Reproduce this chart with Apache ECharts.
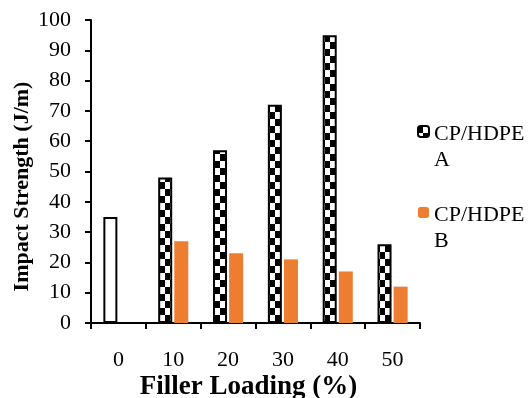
<!DOCTYPE html>
<html><head><meta charset="utf-8">
<script src="https://cdn.jsdelivr.net/npm/echarts@6/dist/echarts.min.js"></script>
<style>html,body{margin:0;padding:0;background:#fff}#c{width:530px;height:398px}</style>
</head><body><div id="c"></div>
<script>
const categories = ['0','10','20','30','40','50'];
const seriesAName = 'CP/HDPE\nA';
const seriesBName = 'CP/HDPE\nB';
const valuesA = [35, 48, 57, 72, 95, 26];
const valuesB = [null, 27, 23, 21, 17, 12];
const yTicks = [0,10,20,30,40,50,60,70,80,90,100];

const cv = document.createElement('canvas');
cv.width = 10; cv.height = 14;
const cx = cv.getContext('2d');
cx.fillStyle = '#fff'; cx.fillRect(0,0,10,14);
cx.fillStyle = '#000'; cx.fillRect(0,0,5,7); cx.fillRect(5,7,5,7);

const font = '"Liberation Serif", "Times New Roman", serif';
const chart = echarts.init(document.getElementById('c'));
chart.setOption({
  animation: false,
  textStyle: {fontFamily: font, color: '#000'},
  grid: {left: 91, right: 110, top: 20, bottom: 75, containLabel: false, outerBoundsMode: 'none'},
  legend: {
    orient: 'vertical', left: 417, top: 90, itemGap: 0, padding: 0,
    itemWidth: 11, itemHeight: 11,
    formatter: name => '{p| }\n' + name.split('\n').map(s => '{t|' + s + '}').join('\n'),
    textStyle: {
      fontFamily: font, fontSize: 22, color: '#000',
      rich: {
        p: {fontSize: 2, height: 31, lineHeight: 31},
        t: {fontFamily: font, fontSize: 22, color: '#000', lineHeight: 26}
      }
    },
    data: [seriesAName, seriesBName]
  },
  xAxis: {
    type: 'category', data: categories,
    name: 'Filler Loading (%)', nameLocation: 'middle', nameGap: 51, nameMoveOverlap: false,
    nameTextStyle: {fontFamily: font, fontSize: 27, fontWeight: 'bold', color: '#000', padding: [0, 14, 0, 0]},
    axisLine: {lineStyle: {color: '#000', width: 2}},
    axisTick: {show: true, length: 6, lineStyle: {color: '#000', width: 2}},
    axisLabel: {fontFamily: font, fontSize: 22, color: '#000', margin: 26}
  },
  yAxis: {
    type: 'value', min: 0, max: 100, interval: 10,
    name: 'Impact Strength (J/m)', nameLocation: 'middle', nameGap: 58, nameMoveOverlap: false,
    nameTextStyle: {fontFamily: font, fontSize: 22, fontWeight: 'bold', color: '#000', padding: [0, 30, 0, 0]},
    axisLine: {show: true, lineStyle: {color: '#000', width: 2}},
    axisTick: {show: true, length: 6, lineStyle: {color: '#000', width: 2}},
    axisLabel: {fontFamily: font, fontSize: 22, color: '#000', margin: 20,
      formatter: v => yTicks.includes(v) ? String(v) : ''},
    splitLine: {show: false}
  },
  series: [
    {
      name: seriesAName, type: 'bar', barWidth: 14, barGap: '15%',
      itemStyle: {color: {image: cv, repeat: 'repeat'}, borderColor: '#000', borderWidth: 2},
      data: valuesA.map((v, i) => i === 0 ? {value: v, itemStyle: {color: '#fff', borderColor: '#000', borderWidth: 2}} : v)
    },
    {
      name: seriesBName, type: 'bar', barWidth: 14,
      itemStyle: {color: '#ED7D31'},
      data: valuesB
    }
  ]
});
</script></body></html>
